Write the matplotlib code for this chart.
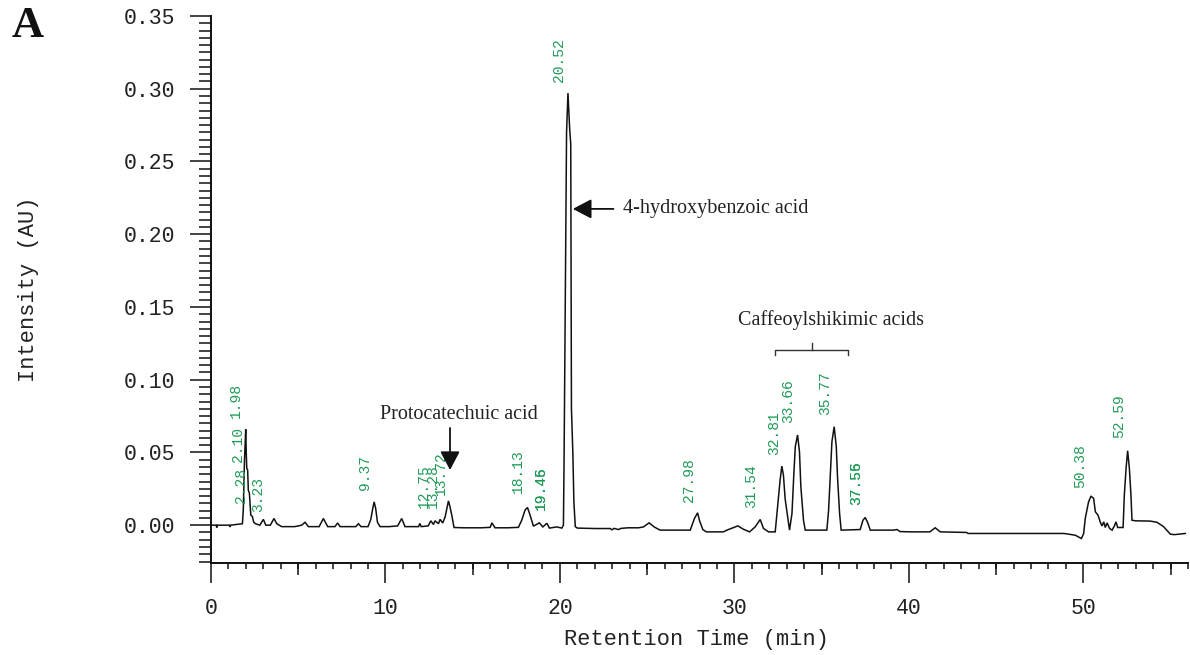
import matplotlib
matplotlib.use('Agg')
import matplotlib.pyplot as plt
import matplotlib.ticker as mticker
import numpy as np

# --- trace (retention time in min, intensity in AU) ---
rt_early = [0.00, 0.30, 0.33, 0.36, 1.05, 1.09, 1.12, 1.80, 1.85, 1.92,
            1.99, 2.02, 2.05, 2.10, 2.14, 2.20, 2.28, 2.37, 2.45, 2.55,
            2.80, 3.00, 3.14, 3.40, 3.61, 3.77, 4.05, 4.80, 5.20, 5.39,
            5.58, 6.20, 6.44, 6.69, 7.10, 7.26, 7.40, 7.70, 8.30, 8.45,
            8.60, 9.00, 9.16, 9.28, 9.35, 9.44, 9.54, 9.69, 10.20, 10.70,
            10.93, 11.12, 11.90, 11.97, 12.05, 12.45, 12.60, 12.75, 12.84, 13.04,
            13.13, 13.28, 13.42, 13.61, 13.70, 13.80, 13.93, 14.50, 15.50, 16.00,
            16.10, 16.28, 17.00, 17.62, 17.81, 18.00, 18.14, 18.29, 18.48, 18.82,
            19.02, 19.25, 19.40, 19.82, 20.11]
au_early = [0.000, 0.000, -0.0016, 0.000, 0.000, -0.0012, 0.000, 0.001, 0.010, 0.045,
            0.066, 0.050, 0.039, 0.038, 0.024, 0.022, 0.007, 0.006, 0.002, 0.001,
            0.000, 0.004, 0.000, 0.000, 0.0046, 0.001, -0.001, -0.001, 0.000, 0.002,
            -0.001, -0.001, 0.0046, -0.001, -0.001, 0.0015, -0.001, -0.001, -0.001, 0.001,
            -0.001, -0.001, 0.004, 0.012, 0.016, 0.0115, 0.002, -0.001, -0.001, -0.0005,
            0.0046, -0.001, -0.001, 0.0012, -0.001, -0.0005, 0.003, 0.0005, 0.003, 0.001,
            0.004, 0.0015, 0.0057, 0.0167, 0.0126, 0.0069, -0.0016, -0.0018, -0.0018, -0.0015,
            0.0016, -0.0018, -0.0018, -0.0015, 0.0034, 0.0103, 0.0122, 0.0069, -0.0007, 0.0016,
            -0.0012, 0.0013, -0.002, -0.0012, -0.002]

rt_main = [20.20, 20.24, 20.32, 20.38, 20.46, 20.56, 20.62, 20.66, 20.74, 20.80, 20.88, 21.00]
au_main = [0.000, 0.048, 0.170, 0.270, 0.297, 0.272, 0.262, 0.080, 0.050, 0.016, -0.001, -0.002]

rt_mid = [22.00, 22.88, 22.98, 23.10, 23.36, 23.50, 23.90, 24.50, 24.79, 25.11,
          25.40, 25.74, 27.47, 27.71, 27.89, 28.00, 28.19, 28.40, 29.37, 29.57,
          30.20, 30.52, 30.87, 31.19, 31.48, 31.67, 31.96, 32.34]
au_mid = [-0.0023, -0.0023, -0.0032, -0.0022, -0.003, -0.0022, -0.0018, -0.0018, -0.0012, 0.0016,
          -0.0012, -0.0034, -0.0034, 0.0046, 0.0085, 0.0032, -0.003, -0.0046, -0.0046, -0.0034,
          -0.0005, -0.0028, -0.0046, -0.0012, 0.0039, -0.0023, -0.0046, -0.0046]

rt_caf = [32.53, 32.62, 32.72, 32.81, 32.91, 33.05, 33.16, 33.30, 33.40, 33.49,
          33.62, 33.73, 33.81, 33.96, 34.06, 35.30, 35.40, 35.49, 35.59, 35.72,
          35.84, 35.91, 36.03, 36.12, 37.21, 37.37, 37.50, 37.63, 37.79]
au_caf = [0.020, 0.031, 0.0406, 0.0344, 0.018, 0.0057, -0.0034, 0.008, 0.0333, 0.0539,
          0.062, 0.0505, 0.0264, 0.0034, -0.0034, -0.0034, 0.0103, 0.0333, 0.0574, 0.0677,
          0.054, 0.0333, 0.008, -0.0034, -0.003, 0.0034, 0.0053, 0.002, -0.0034]

rt_late = [39.12, 39.32, 39.50, 40.10, 41.20, 41.51, 41.80, 43.30, 43.40, 48.90,
           49.54, 49.89, 50.02, 50.11, 50.30, 50.44, 50.59, 50.69, 50.84, 50.98,
           51.07, 51.17, 51.26, 51.36, 51.51, 51.65, 51.78, 51.87, 51.97, 52.28,
           52.35, 52.45, 52.54, 52.64, 52.73, 52.79, 52.98, 53.84, 54.22, 54.60,
           54.99, 55.22, 55.85]
au_late = [-0.0034, -0.003, -0.0044, -0.0046, -0.0046, -0.0018, -0.0046, -0.005, -0.0057, -0.0057,
           -0.0069, -0.0092, -0.0057, 0.0046, 0.016, 0.020, 0.0184, 0.0092, 0.0069, 0.0018,
           -0.0005, 0.0023, -0.0016, 0.0016, -0.0023, -0.0034, -0.0005, 0.0023, -0.0016, -0.0016,
           0.0207, 0.039, 0.0512, 0.039, 0.0207, 0.0034, 0.003, 0.0028, 0.002, -0.001,
           -0.0062, -0.0065, -0.0057]

# peak labels printed by the integration software
peak_labels = ['1.98', '2.10', '2.28', '3.23', '9.37', '12.75', '13.28', '13.72',
               '18.13', '19.45', '19.46', '20.52', '27.98', '31.54', '32.81', '33.66',
               '35.77', '37.55', '37.56', '50.38', '52.59']
label_y = [0.0737, 0.0434, 0.0152, 0.0092, 0.0241, 0.0117, 0.0117, 0.0207,
           0.022, 0.0103, 0.0103, 0.3044, 0.016, 0.0115, 0.0482, 0.070,
           0.0758, 0.0138, 0.0138, 0.0253, 0.0597]

yticks = [0.00, 0.05, 0.10, 0.15, 0.20, 0.25, 0.30, 0.35]
xticks = [0, 10, 20, 30, 40, 50]

rt = np.concatenate([rt_early, rt_main, rt_mid, rt_caf, rt_late])
au = np.concatenate([au_early, au_main, au_mid, au_caf, au_late])

MONO = ['Liberation Mono', 'DejaVu Sans Mono']
SERIF = ['Liberation Serif', 'DejaVu Serif']
GREEN = '#1f9b57'

W, H = 1190, 655
fig = plt.figure(figsize=(W / 100, H / 100), dpi=100)
ax = fig.add_axes([211 / W, 1 - 563 / H, (1188 - 211) / W, (563 - 16) / H])

ax.plot(rt, au, color='#111111', linewidth=1.1, solid_joinstyle='miter')

ax.set_xlim(0, 56)
ax.set_ylim(-0.026, 0.35)
for s in ['top', 'right']:
    ax.spines[s].set_visible(False)
for s in ['left', 'bottom']:
    ax.spines[s].set_linewidth(1.4)
    ax.spines[s].set_color('#111111')

ax.yaxis.set_major_locator(mticker.FixedLocator(yticks))
ax.yaxis.set_minor_locator(mticker.MultipleLocator(0.005))
ax.yaxis.set_major_formatter(mticker.FormatStrFormatter('%.2f'))
ax.xaxis.set_major_locator(mticker.FixedLocator(xticks))
ax.xaxis.set_minor_locator(mticker.MultipleLocator(1))
ax.xaxis.set_major_formatter(mticker.FormatStrFormatter('%d'))

ax.tick_params(axis='y', which='major', direction='out', length=15, width=1.1, pad=10.5,
               labelsize=15.5, colors='#111111', labelcolor='#222222')
ax.tick_params(axis='y', which='minor', direction='out', length=8.6, width=1.1, colors='#111111')
ax.tick_params(axis='x', which='major', direction='out', length=14.4, width=1.1, pad=10.5,
               labelsize=15.5, colors='#111111', labelcolor='#222222')
ax.tick_params(axis='x', which='minor', direction='out', length=4, width=1.1, colors='#111111')
for lab in ax.get_xticklabels() + ax.get_yticklabels():
    lab.set_family(MONO)

# medium ticks at the half decades
sec = ax.secondary_xaxis('bottom')
sec.set_xticks([5, 15, 25, 35, 45, 55])
sec.set_xticklabels([])
sec.tick_params(direction='out', length=8.6, width=1.1, colors='#111111')
sec.spines['bottom'].set_visible(False)

fig.text(29 / W, 1 - 289 / H, 'Intensity (AU)', rotation=90, ha='center', va='center',
         fontsize=15.8, family=MONO, color='#222222')
fig.text(697 / W, 1 - 639 / H, 'Retention Time (min)', ha='center', va='center',
         fontsize=15.8, family=MONO, color='#222222')

for txt, yb in zip(peak_labels, label_y):
    ax.annotate(txt, xy=(float(txt), yb), xytext=(-7, 0), textcoords='offset points',
                rotation=90, ha='center', va='bottom', fontsize=10.5,
                family=MONO, color=GREEN)

# compound annotations
arrow = dict(arrowstyle='-|>,head_length=0.95,head_width=0.5', color='#111111',
             lw=1.3, mutation_scale=12, shrinkA=0, shrinkB=0)
ax.annotate('', xy=(20.74, 0.2174), xytext=(23.07, 0.2174), arrowprops=arrow)
ax.text(23.64, 0.2174, '4-hydroxybenzoic acid', ha='left', va='center',
        fontsize=14.5, family=SERIF, color='#222222')

ax.annotate('', xy=(13.70, 0.0379), xytext=(13.70, 0.0668), arrowprops=arrow)
ax.text(14.22, 0.0758, 'Protocatechuic acid', ha='center', va='center',
        fontsize=14.5, family=SERIF, color='#222222')

ax.plot([32.34, 32.34, 36.54, 36.54], [0.117, 0.1205, 0.1205, 0.117],
        color='#333333', linewidth=1.0)
ax.plot([34.44, 34.44], [0.1205, 0.1253], color='#333333', linewidth=1.0)
ax.text(35.53, 0.141, 'Caffeoylshikimic acids', ha='center', va='center',
        fontsize=14.5, family=SERIF, color='#222222')

fig.text(28 / W, 1 - 26 / H, 'A', ha='center', va='center', fontsize=32,
         fontweight='bold', family=SERIF, color='#111111')

fig.savefig('out.png', dpi=100)
plt.close()
